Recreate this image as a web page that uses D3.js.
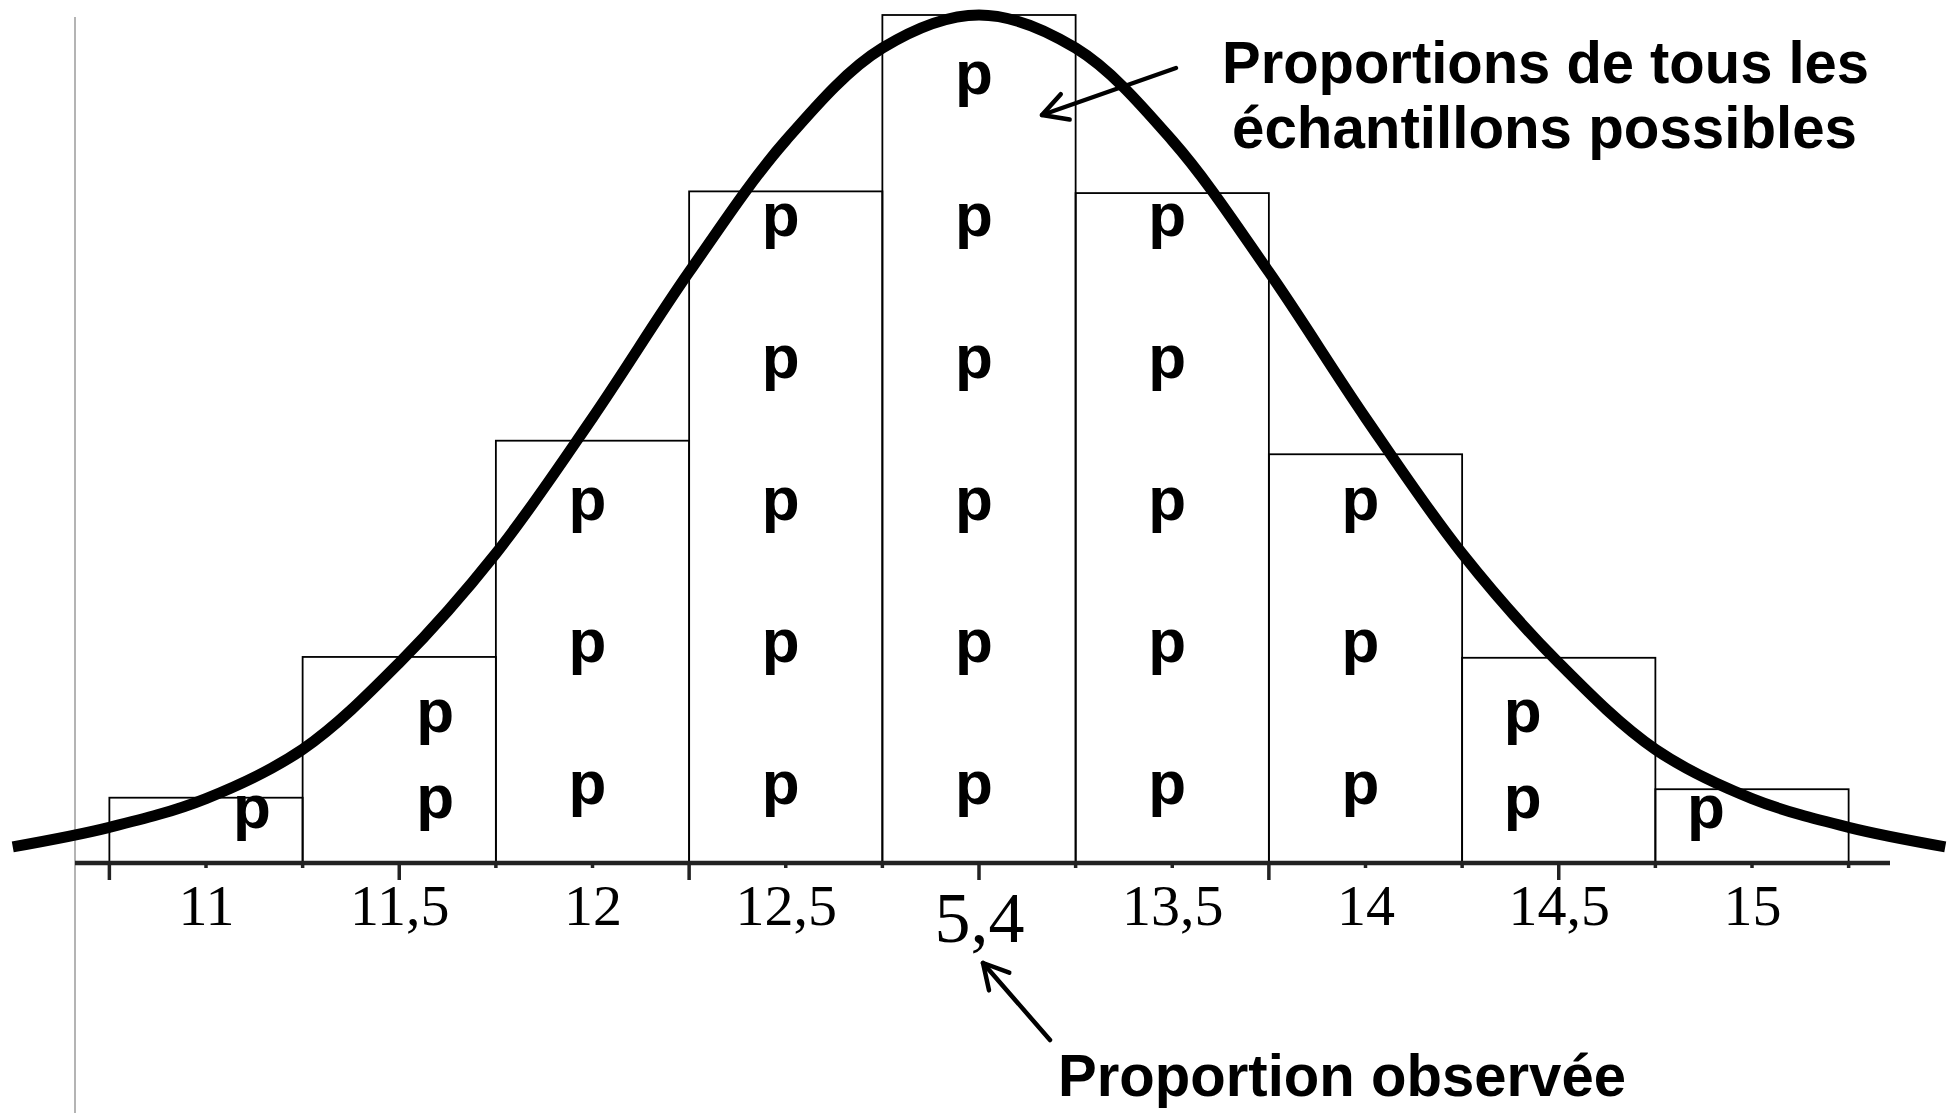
<html>
<head>
<title>Distribution des proportions</title>
<script src="https://d3js.org/d3.v7.min.js"></script>
</head>
<style>
  body { margin: 0; background: white; }
  .bar { fill: none; stroke: black; stroke-width: 1.8; }
  .pee {
    font-family: "Liberation Sans", Arial, sans-serif;
    font-weight: bold;
    font-size: 62px;
    text-anchor: middle;
  }
  .tick-label {
    font-family: "Liberation Serif", "Times New Roman", serif;
    font-size: 58px;
  }
  .note {
    font-family: "Liberation Sans", Arial, sans-serif;
    font-weight: bold;
    font-size: 60px;
  }
</style>
<body>
<svg id="chart" width="1954" height="1113"></svg>
<script>
// classes (centre de chaque barre)
const binCenters = [11, 11.5, 12, 12.5, 13, 13.5, 14, 14.5, 15];
const tickLabels = ["11", "11,5", "12", "12,5", "5,4", "13,5", "14", "14,5", "15"];
// hauteur des barres
const barHeights = [0.77, 2.43, 4.98, 7.92, 10.0, 7.90, 4.82, 2.42, 0.87];
// nombre de "p" dans chaque barre
const pCounts = [1, 2, 3, 5, 6, 5, 3, 2, 1];
// graduations de l'axe
const quarterTicks = [10.75, 11, 11.25, 11.5, 11.75, 12, 12.25, 12.5, 12.75, 13,
                      13.25, 13.5, 13.75, 14, 14.25, 14.5, 14.75, 15, 15.25];
const majorTicks = [10.75, 11.5, 12.25, 13, 13.75, 14.5];
// la courbe en cloche
const curveX = [10.5, 10.75, 11, 11.25, 11.5, 11.75, 12, 12.25, 12.5, 12.75, 13,
                13.25, 13.5, 13.75, 14, 14.25, 14.5, 14.75, 15, 15.25, 15.5];
const curveY = [0.19, 0.42, 0.76, 1.34, 2.36, 3.65, 5.25, 6.97, 8.52, 9.61, 10.0,
                9.61, 8.52, 6.97, 5.25, 3.65, 2.36, 1.34, 0.76, 0.42, 0.19];

const svg1 = d3.select("svg#chart");
const xScale = d3.scaleLinear().domain([11, 15]).range([206, 1752]);
const yScale = d3.scaleLinear().domain([0, 10]).range([863, 15]);
const binWidth = xScale(11.5) - xScale(11);

// ligne verticale grise a gauche
svg1.append("line")
    .attr("x1", 75).attr("x2", 75)
    .attr("y1", 17).attr("y2", 1113)
    .attr("stroke", "#b4b4b4")
    .attr("stroke-width", 2);

const chartArea = svg1.append("g");

// barres
chartArea.selectAll("rect.bar")
    .data(binCenters)
    .join("rect")
    .attr("class", "bar")
    .attr("x", d => xScale(d - 0.25))
    .attr("width", binWidth)
    .attr("y", (d, i) => yScale(barHeights[i]))
    .attr("height", (d, i) => yScale(0) - yScale(barHeights[i]));

// les "p"
let pees = [];
binCenters.forEach((c, i) => {
  let n = pCounts[i];
  let h = yScale(0) - yScale(barHeights[i]);
  let bottomOff = Math.max(50, Math.min(74, 0.29 * h));
  let step = Math.min(142, 0.42 * h);
  let shift = n === 1 ? 46 : (n === 2 ? 36 : -5);
  if (c > 13 && n <= 2) shift = -shift;
  for (let k = 0; k < n; k++) {
    pees.push({ x: xScale(c) + shift, y: yScale(0) - bottomOff - k * step });
  }
});
chartArea.selectAll("text.pee")
    .data(pees)
    .join("text")
    .attr("class", "pee")
    .attr("x", d => d.x)
    .attr("y", d => d.y + 15)
    .text("p");

// axe
svg1.append("line")
    .attr("x1", 75).attr("x2", 1890)
    .attr("y1", yScale(0)).attr("y2", yScale(0))
    .attr("stroke", "#222")
    .attr("stroke-width", 4.5);

let xAxis = d3.axisBottom(xScale)
    .tickValues(binCenters)
    .tickSize(0)
    .tickFormat((d, i) => tickLabels[i]);
const xAxisArea = svg1.append("g")
    .attr("transform", "translate(0," + yScale(0) + ")")
    .call(xAxis);
xAxisArea.select(".domain").remove();
xAxisArea.selectAll("text")
    .attr("class", "tick-label")
    .attr("y", 62)
    .attr("dy", null)
    .attr("fill", "black");
xAxisArea.selectAll("text")
    .filter(d => d === 13)
    .style("font-size", "72px")
    .attr("y", 79);

xAxisArea.selectAll("line.qt")
    .data(quarterTicks)
    .join("line")
    .attr("class", "qt")
    .attr("x1", d => xScale(d)).attr("x2", d => xScale(d))
    .attr("y1", 0)
    .attr("y2", d => majorTicks.includes(d) ? 17 : 5)
    .attr("stroke", "#222")
    .attr("stroke-width", 3.5);

// courbe normale
var lineFunction = d3.line()
    .x(d => xScale(d[0]))
    .y(d => yScale(d[1]))
    .curve(d3.curveCatmullRom);
svg1.append("path")
    .attr("d", lineFunction(d3.zip(curveX, curveY)))
    .attr("stroke", "black")
    .attr("stroke-width", 11)
    .attr("fill", "none");

// fleches
function arrow(x1, y1, x2, y2) {
  let a = Math.atan2(y1 - y2, x1 - x2);
  let len = 28, spread = 0.5;
  let g = svg1.append("g")
      .attr("stroke", "black")
      .attr("stroke-width", 4.5)
      .attr("stroke-linecap", "round")
      .attr("fill", "none");
  g.append("line").attr("x1", x1).attr("y1", y1).attr("x2", x2).attr("y2", y2);
  g.append("polyline").attr("points", [
    [x2 + len * Math.cos(a - spread), y2 + len * Math.sin(a - spread)],
    [x2, y2],
    [x2 + len * Math.cos(a + spread), y2 + len * Math.sin(a + spread)]
  ].map(p => p.join(",")).join(" "))
   .attr("stroke-linejoin", "round");
}
arrow(xScale(13) + 197, 68, xScale(13) + 63, 115);
arrow(xScale(13) + 71, 1040, xScale(13) + 4, 963);

// annotations
svg1.append("text").attr("class", "note")
    .attr("x", 1222).attr("y", 83)
    .attr("textLength", 647).attr("lengthAdjust", "spacingAndGlyphs")
    .text("Proportions de tous les");
svg1.append("text").attr("class", "note")
    .attr("x", 1232).attr("y", 148)
    .attr("textLength", 625).attr("lengthAdjust", "spacingAndGlyphs")
    .text("échantillons possibles");
svg1.append("text").attr("class", "note")
    .attr("x", 1058).attr("y", 1096)
    .attr("textLength", 568).attr("lengthAdjust", "spacingAndGlyphs")
    .text("Proportion observée");
</script>
</body>
</html>
